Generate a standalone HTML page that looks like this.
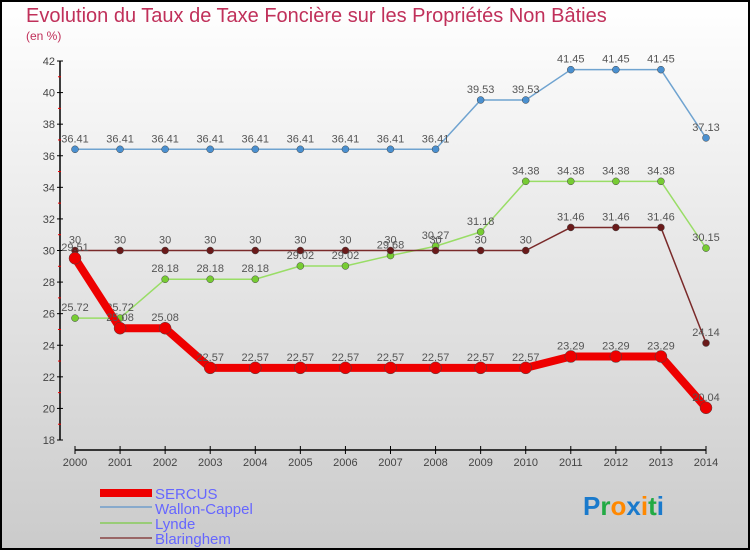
<!DOCTYPE html>
<html><head><meta charset="utf-8"><style>
body{margin:0}
svg{display:block;font-family:"Liberation Sans",sans-serif}
</style></head><body>
<svg id="c" width="750" height="550">
<defs><linearGradient id="bg" x1="0" y1="0" x2="0" y2="1"><stop offset="0" stop-color="#ffffff"/><stop offset="1" stop-color="#cbcbcb"/></linearGradient></defs>
<rect x="1" y="1" width="748" height="548" fill="url(#bg)" stroke="#000" stroke-width="2"/>
<text x="26" y="22" font-size="20" fill="#c0305a">Evolution du Taux de Taxe Foncière sur les Propriétés Non Bâties</text>
<text x="26" y="40" font-size="12" fill="#c0305a">(en %)</text>
<g id="axes"></g><g id="series"></g>
<g>
<rect x="100" y="489" width="52" height="8" fill="#ee0000"/>
<text x="155" y="499" font-size="15" fill="#6666ff">SERCUS</text>
<rect x="100" y="506" width="52" height="2" fill="#88aacc"/>
<text x="155" y="514" font-size="15" fill="#6666ff">Wallon-Cappel</text>
<rect x="100" y="522" width="52" height="2" fill="#99cc77"/>
<text x="155" y="529" font-size="15" fill="#6666ff">Lynde</text>
<rect x="100" y="537" width="52" height="2" fill="#996666"/>
<text x="155" y="544" font-size="15" fill="#6666ff">Blaringhem</text>
</g>
<text x="583" y="515" font-size="26" font-weight="bold"><tspan fill="#1a7acc">P</tspan><tspan fill="#22aa44">r</tspan><tspan fill="#ff8800">o</tspan><tspan fill="#1a7acc">x</tspan><tspan fill="#ff8800">i</tspan><tspan fill="#22aa44">t</tspan><tspan fill="#1a7acc">i</tspan></text>
</svg>
<script>
const years=[2000,2001,2002,2003,2004,2005,2006,2007,2008,2009,2010,2011,2012,2013,2014];
const yTicks=[18,20,22,24,26,28,30,32,34,36,38,40,42];
const wallon=[36.41,36.41,36.41,36.41,36.41,36.41,36.41,36.41,36.41,39.53,39.53,41.45,41.45,41.45,37.13];
const lynde=[25.72,25.72,28.18,28.18,28.18,29.02,29.02,29.68,30.27,31.18,34.38,34.38,34.38,34.38,30.15];
const blaringhem=[30,30,30,30,30,30,30,30,30,30,30,31.46,31.46,31.46,24.14];
const sercus=[29.51,25.08,25.08,22.57,22.57,22.57,22.57,22.57,22.57,22.57,22.57,23.29,23.29,23.29,20.04];
const NS="http://www.w3.org/2000/svg";
const X=i=>75+i*(706-75)/(years.length-1);
const Y=v=>440-(v-18)*(440-61)/24;
function el(t,a,p){const e=document.createElementNS(NS,t);for(const k in a)e.setAttribute(k,a[k]);p.appendChild(e);return e;}
const ax=document.getElementById('axes');
el('line',{x1:60,y1:Y(42),x2:60,y2:Y(18),stroke:'#000','stroke-width':1.5},ax);
el('line',{x1:75,y1:450,x2:706,y2:450,stroke:'#000','stroke-width':1.5},ax);
yTicks.forEach(v=>{
  el('line',{x1:57,y1:Y(v),x2:63,y2:Y(v),stroke:'#000'},ax);
  if(v<42)el('line',{x1:58,y1:Y(v+1),x2:61,y2:Y(v+1),stroke:'#e00'},ax);
  const t=el('text',{x:55,y:Y(v)+4,'text-anchor':'end','font-size':11,fill:'#444'},ax);
  t.textContent=v;
  
  
});
years.forEach((y,i)=>{
  el('line',{x1:X(i),y1:446,x2:X(i),y2:454,stroke:'#000'},ax);
  const t=el('text',{x:X(i),y:466,'text-anchor':'middle','font-size':11,fill:'#444'},ax);
  t.textContent=y;
  
  
});
const sg=document.getElementById('series');
function draw(vals,color,w,r,name,dot){
  const g=el('g',{},sg);
  
  
  const pl=el('polyline',{points:vals.map((v,i)=>X(i)+','+Y(v)).join(' '),fill:'none',stroke:color,'stroke-width':w,'stroke-linejoin':'round'},g);
  
  
  vals.forEach((v,i)=>{
    const c=el('circle',{cx:X(i),cy:Y(v),r:r,fill:dot,stroke:'#444','stroke-width':0.5},g);
    
    
    const t=el('text',{x:X(i),y:Y(v)-7,'text-anchor':'middle','font-size':11,fill:'#555'},g);
    t.textContent=v;
    
    
  });
}
draw(wallon,'#6fa3d0',1.5,3.5,'wallon-cappel','#4a90d0');
draw(lynde,'#99dd66',1.5,3.5,'lynde','#77cc33');
draw(blaringhem,'#7a2a2a',1.5,3.5,'blaringhem','#6a1a1a');
draw(sercus,'#ee0000',8,6,'sercus','#ee0000');
</script>
</body></html>
